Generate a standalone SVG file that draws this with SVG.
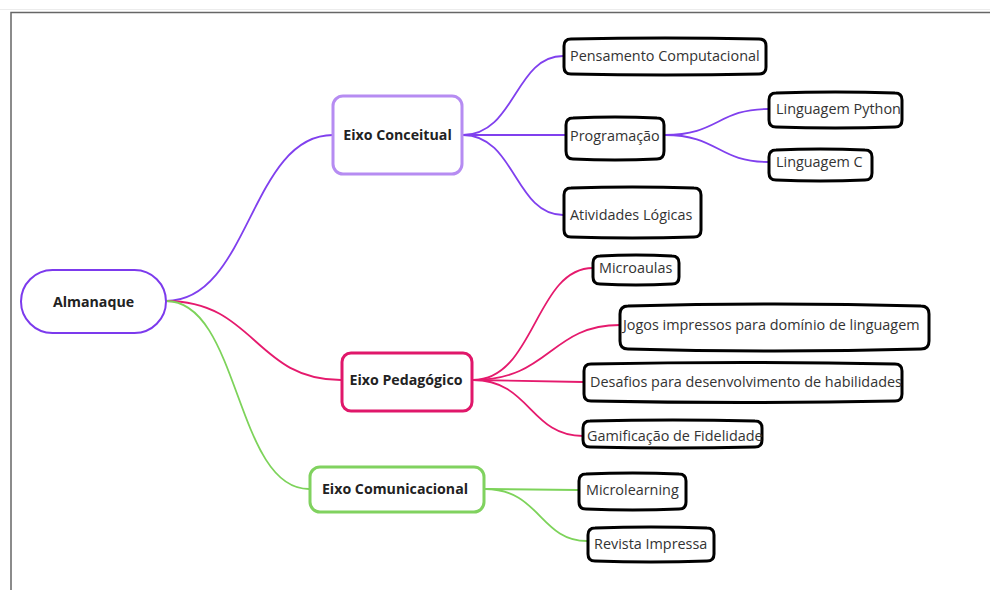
<svg xmlns="http://www.w3.org/2000/svg" width="990" height="590" viewBox="0 0 990 590">
<style>
.leaf{fill:#fff;stroke:#000;stroke-width:3;stroke-linejoin:round}
.lt{font-family:"Open Sans","DejaVu Sans",sans-serif;font-size:14.4px;fill:#333}
.bt{font-family:"Open Sans","DejaVu Sans",sans-serif;font-size:14.2px;font-weight:bold;fill:#222;text-anchor:middle}
.c{fill:none;stroke-width:1.8}
.p{stroke:#8040ee}.k{stroke:#e51a6d}.g{stroke:#7dd35a}
</style>
<rect x="0" y="0" width="990" height="590" fill="#fff"/>
<line x1="0" y1="9.5" x2="990" y2="9.5" stroke="#ececec" stroke-width="1"/>
<path d="M11 590 V12.5 H990" fill="none" stroke="#666" stroke-width="1.5"/>
<g id="connectors">
<path class="c p" d="M166 301 C250 301 250 135 333 135"/>
<path class="c k" d="M166 301 C255 301 255 380 341 380"/>
<path class="c g" d="M166 301 C240 301 235 489 309 489"/>
<path class="c p" d="M463 135 C515 135 515 56 563 56"/>
<path class="c p" d="M463 135 L565 135"/>
<path class="c p" d="M463 135 C515 135 515 215 563 215"/>
<path class="c p" d="M665 135 C718 135 718 109 768 109"/>
<path class="c p" d="M665 135 C718 135 718 162 768 162"/>
<path class="c k" d="M473 380 C535 380 535 268 593 268"/>
<path class="c k" d="M473 380 C550 380 550 325 620 325"/>
<path class="c k" d="M473 380 L583 382"/>
<path class="c k" d="M473 380 C530 380 530 436 583 436"/>
<path class="c g" d="M485 489 L578 490"/>
<path class="c g" d="M485 489 C540 489 540 541 587 541"/>
</g>
<g id="almanaque">
<rect x="21" y="270" width="145" height="63" rx="31.5" fill="#fff" stroke="#7c3aed" stroke-width="2"/>
<text class="bt" x="93.5" y="307" font-size="15">Almanaque</text>
</g>
<g id="eixo-conceitual">
<rect x="333" y="96" width="129" height="78" rx="10" fill="#fff" stroke="#b68cf2" stroke-width="3"/>
<text class="bt" x="397.5" y="140">Eixo Conceitual</text>
</g>
<g id="eixo-pedagogico">
<rect x="342" y="353" width="130" height="58" rx="9" fill="#fff" stroke="#e0176a" stroke-width="3"/>
<text class="bt" x="406" y="385">Eixo Pedagógico</text>
</g>
<g id="eixo-comunicacional">
<rect x="310" y="467" width="174" height="45" rx="10" fill="#fff" stroke="#80d25f" stroke-width="3"/>
<text class="bt" x="395" y="494">Eixo Comunicacional</text>
</g>
<g id="pensamento">
<path class="leaf" d="M571 39 Q665 37 759 39 Q766 39 766 46 L766 67 Q766 74 759 74 Q665 76 571 74 Q564 74 564 67 L564 46 Q564 39 571 39 Z"/>
<text class="lt" x="570" y="61">Pensamento Computacional</text>
</g>
<g id="programacao">
<path class="leaf" d="M573 118 Q615 116 657 118 Q664 118 664 125 L664 151 Q664 159 657 159 Q615 161 573 159 Q566 159 566 151 L566 125 Q566 118 573 118 Z"/>
<text class="lt" x="570" y="141">Programação</text>
</g>
<g id="python">
<path class="leaf" d="M776 93 Q835 91 895 93 Q902 93 902 100 L902 120 Q902 127 895 127 Q835 129 776 127 Q769 127 769 120 L769 100 Q769 93 776 93 Z"/>
<text class="lt" x="776" y="114">Linguagem Python</text>
</g>
<g id="linguagem-c">
<path class="leaf" d="M776 150 Q820 148 865 150 Q872 150 872 157 L872 173 Q872 180 865 180 Q820 182 776 180 Q769 180 769 173 L769 157 Q769 150 776 150 Z"/>
<text class="lt" x="776" y="167">Linguagem C</text>
</g>
<g id="atividades">
<path class="leaf" d="M571 188 Q632 186 694 188 Q701 188 701 195 L701 230 Q701 237 694 237 Q632 239 571 237 Q564 237 564 230 L564 195 Q564 188 571 188 Z"/>
<text class="lt" x="570" y="220">Atividades Lógicas</text>
</g>
<g id="microaulas">
<path class="leaf" d="M600 256 Q636 254 672 256 Q679 256 679 263 L679 277 Q679 284 672 284 Q636 286 600 284 Q593 284 593 277 L593 263 Q593 256 600 256 Z"/>
<text class="lt" x="599" y="273">Microaulas</text>
</g>
<g id="jogos">
<path class="leaf" d="M628 306 Q775 302 921 306 Q929 306 929 314 L929 341 Q929 349 921 349 Q775 353 628 349 Q620 349 620 341 L620 314 Q620 306 628 306 Z"/>
<text class="lt" x="623" y="330">Jogos impressos para domínio de linguagem</text>
</g>
<g id="desafios">
<path class="leaf" d="M591 364 Q745 361 895 364 Q902 364 902 371 L902 394 Q902 401 895 401 Q745 404 591 401 Q584 401 584 394 L584 371 Q584 364 591 364 Z"/>
<text class="lt" x="590" y="387">Desafios para desenvolvimento de habilidades</text>
</g>
<g id="gamificacao">
<path class="leaf" d="M590 421 Q673 419 755 421 Q762 421 762 428 L762 440 Q762 447 755 447 Q673 449 590 447 Q583 447 583 440 L583 428 Q583 421 590 421 Z"/>
<text class="lt" x="587" y="441">Gamificação de Fidelidade</text>
</g>
<g id="microlearning">
<path class="leaf" d="M586 474 Q633 472 679 474 Q686 474 686 481 L686 502 Q686 509 679 509 Q633 511 586 509 Q579 509 579 502 L579 481 Q579 474 586 474 Z"/>
<text class="lt" x="586" y="495">Microlearning</text>
</g>
<g id="revista">
<path class="leaf" d="M595 528 Q651 526 707 528 Q714 528 714 535 L714 554 Q714 561 707 561 Q651 563 595 561 Q588 561 588 554 L588 535 Q588 528 595 528 Z"/>
<text class="lt" x="594" y="549">Revista Impressa</text>
</g>
</svg>
